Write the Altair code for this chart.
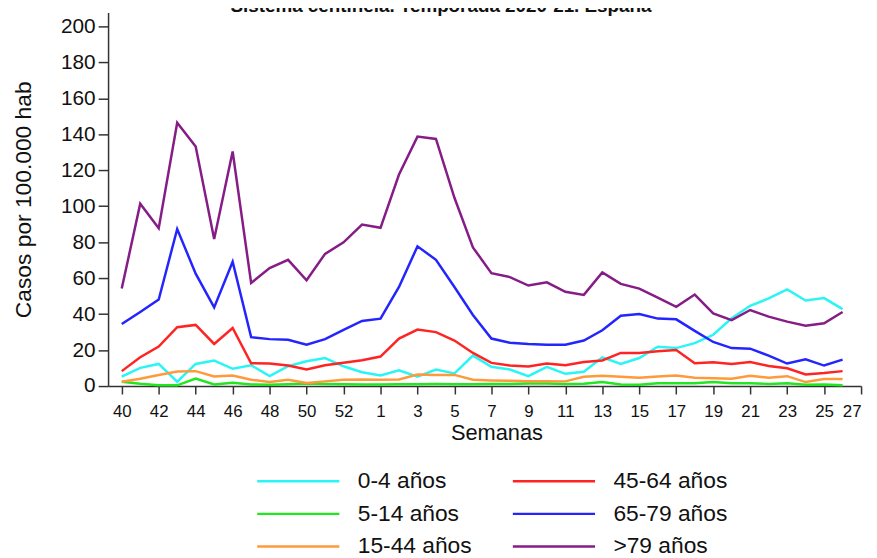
import altair as alt
import pandas as pd

title_text = "Sistema centinela. Temporada 2020-21. España"

weeks = [str(w) for w in range(40, 54)] + [str(w) for w in range(1, 27)]

groups = ["0-4 años", "5-14 años", "15-44 años", "45-64 años", "65-79 años", ">79 años"]
colors = ["#2af5f5", "#22e622", "#ff9a3c", "#ff2424", "#2424ff", "#861c86"]

v_0_4 = [5.2, 10.1, 12.3, 2.4, 12.3, 14.2, 9.6, 11.6, 5.5, 11.0,
         13.8, 15.6, 11.0, 7.7, 5.9, 8.8, 5.2, 9.2, 7.0, 16.9,
         10.7, 9.2, 5.5, 10.7, 6.8, 7.9, 16.0, 12.3, 15.6, 21.9,
         21.1, 23.9, 28.5, 37.7, 44.6, 48.7, 53.7, 47.6, 48.9, 42.8]
v_5_14 = [2.4, 1.3, 0.5, 0.4, 4.1, 0.9, 1.8, 0.9, 0.7, 1.0,
          1.4, 1.2, 1.0, 0.9, 0.9, 1.0, 1.0, 1.1, 1.0, 1.0,
          1.1, 1.2, 1.4, 1.4, 1.2, 1.3, 2.3, 0.9, 0.7, 1.5,
          1.5, 1.6, 2.2, 1.5, 1.6, 1.2, 1.5, 0.7, 0.9, 0.5]
v_15_44 = [2.4, 4.1, 6.1, 8.1, 8.3, 5.3, 5.9, 3.5, 2.2, 3.5,
           1.7, 2.6, 3.5, 3.7, 3.5, 3.7, 6.4, 6.2, 6.2, 3.5,
           3.1, 2.9, 2.7, 2.7, 2.6, 5.2, 5.7, 5.2, 4.6, 5.3,
           5.9, 4.6, 4.4, 4.1, 5.7, 4.6, 5.5, 2.2, 3.9, 3.9]
v_45_64 = [8.3, 16.0, 22.0, 32.7, 34.0, 23.4, 32.3, 12.7, 12.5, 11.4,
           9.2, 11.6, 12.9, 14.3, 16.4, 26.4, 31.4, 30.0, 25.3, 18.4,
           12.9, 11.4, 10.9, 12.5, 11.6, 13.4, 14.2, 18.4, 18.4, 19.3,
           20.0, 12.7, 13.2, 12.3, 13.4, 11.2, 9.9, 6.4, 7.2, 8.3]
v_65_79 = [34.5, 41.2, 48.1, 87.3, 62.5, 43.7, 69.1, 27.2, 26.1, 25.7,
           23.0, 26.1, 31.2, 36.2, 37.5, 55.1, 77.7, 70.2, 55.1, 39.5,
           26.4, 24.1, 23.4, 23.0, 23.0, 25.3, 31.0, 39.1, 40.1, 37.5,
           37.1, 30.7, 24.5, 21.1, 20.8, 16.9, 12.5, 14.9, 11.4, 14.7]
v_80 = [54.2, 101.4, 87.8, 146.4, 133.2, 81.8, 130.4, 57.3, 65.6, 70.2,
        58.8, 73.5, 79.9, 89.8, 88.0, 117.6, 138.7, 137.4, 104.7, 77.1,
        62.8, 60.6, 55.9, 57.7, 52.4, 50.7, 63.2, 56.8, 54.2, 49.2,
        44.1, 50.9, 40.4, 36.7, 42.3, 38.6, 35.8, 33.6, 34.9, 41.2]

series = [v_0_4, v_5_14, v_15_44, v_45_64, v_65_79, v_80]

rows = []
for g, vals in zip(groups, series):
    for i, (w, v) in enumerate(zip(weeks, vals)):
        rows.append({"idx": i, "semana": w, "grupo": g, "valor": v})
df = pd.DataFrame(rows)

FONT = "Liberation Sans"

lines = alt.Chart(df).mark_line(strokeWidth=2.5).encode(
    x=alt.X(
        "idx:Q",
        scale=alt.Scale(domain=[-0.74, 40], nice=False, zero=False),
        axis=alt.Axis(
            values=list(range(0, 41, 2)),
            labelExpr="datum.value <= 13 ? datum.value + 40 : datum.value - 13",
            title="Semanas",
            grid=False,
            tickSize=8,
            labelFontSize=17,
            labelPadding=10,
            titleFontSize=22,
            titleX=392,
            titleY=54,
            titleBaseline="alphabetic",
            titleAlign="center",
        ),
    ),
    y=alt.Y(
        "valor:Q",
        scale=alt.Scale(domain=[0, 207.7], nice=False),
        axis=alt.Axis(
            values=list(range(0, 201, 20)),
            title="Casos por 100.000 hab",
            grid=False,
            tickSize=10,
            labelFontSize=21,
            labelPadding=3,
            titleFontSize=23,
            titleX=-85,
            titleY=188.5,
            titleAngle=270,
            titleBaseline="middle",
            titleAlign="center",
        ),
    ),
    color=alt.Color(
        "grupo:N",
        scale=alt.Scale(domain=groups, range=colors),
        legend=alt.Legend(
            orient="none",
            legendX=180,
            legendY=461,
            direction="vertical",
            columns=2,
            title=None,
            symbolType="M-4,0H4",
            symbolSize=430,
            symbolStrokeWidth=2.5,
            labelFontSize=23,
            labelFont=FONT,
            labelColor="#111111",
            labelOffset=48,
            rowPadding=9,
            columnPadding=35,
            padding=0,
        ),
    ),
    detail="grupo:N",
)

title_df = pd.DataFrame({"t": [title_text]})
title = alt.Chart(title_df).mark_text(
    font=FONT, fontSize=19, fontWeight="bold", color="#111111",
    align="center", baseline="alphabetic",
).encode(
    x=alt.value(336),
    y=alt.value(-1),
    text="t:N",
)

chart = alt.layer(lines, title).properties(
    width=760,
    height=377,
    autosize=alt.AutoSizeParams(type="none"),
    padding={"left": 101, "top": 2, "right": 8, "bottom": 173},
).configure_view(stroke=None).configure_axis(
    labelFont=FONT,
    titleFont=FONT,
    titleFontWeight="normal",
    labelColor="#111111",
    titleColor="#111111",
    domainColor="#333333",
    domainWidth=1.5,
    tickColor="#333333",
    tickWidth=1.5,
)

chart.save("out.html", embed_options={"renderer": "svg", "actions": False})
